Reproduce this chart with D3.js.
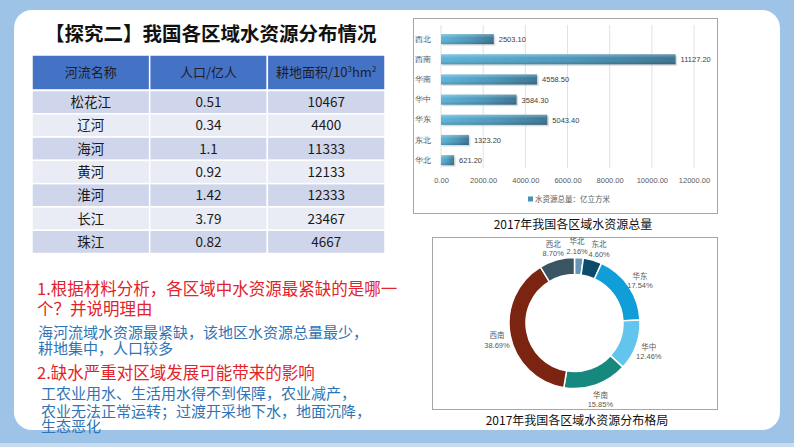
<!DOCTYPE html>
<html><head><meta charset="utf-8">
<script src="https://cdn.jsdelivr.net/npm/d3@7"></script>
<style>
body{margin:0;background:#9dc3e6;overflow:hidden;}
svg{display:block;font-family:"Noto Sans CJK SC","Noto Sans",sans-serif;}
</style>
</head><body>
<svg id="c" width="794" height="447"></svg>
<script>
// ---------- data ----------
const barRegions = ["西北","西南","华南","华中","华东","东北","华北"];
const waterTotal = [2503.10, 11127.20, 4558.50, 3584.30, 5043.40, 1323.20, 621.20];
const xTicks = [0, 2000, 4000, 6000, 8000, 10000, 12000];
const legendLabel = "水资源总量：亿立方米";

const donutRegions = ["华北","东北","华东","华中","华南","西南","西北"];
const sharePct = [2.16, 4.60, 17.54, 12.46, 15.85, 38.69, 8.70];
const donutColors = ["#6897b6","#0c4c69","#0f9ed8","#62c5ee","#17887d","#7a2411","#3b5464"];

const rivers = ["松花江","辽河","海河","黄河","淮河","长江","珠江"];
const population = ["0.51","0.34","1.1","0.92","1.42","3.79","0.82"];
const farmland = ["10467","4400","11333","12133","12333","23467","4667"];

const title = "【探究二】我国各区域水资源分布情况";
const barCaption = "2017年我国各区域水资源总量";
const donutCaption = "2017年我国各区域水资源分布格局";
const question1 = ["1.根据材料分析，各区域中水资源最紧缺的是哪一", "个？并说明理由"];
const answer1 = ["海河流域水资源最紧缺，该地区水资源总量最少，", "耕地集中，人口较多"];
const question2 = ["2.缺水严重对区域发展可能带来的影响"];
const answer2 = ["工农业用水、生活用水得不到保障，农业减产，", "农业无法正常运转；过渡开采地下水，地面沉降，", "生态恶化"];

// ---------- canvas ----------
const svg = d3.select("#c");
svg.append("rect").attr("width",794).attr("height",447).attr("fill","#9dc3e6");
svg.append("rect").attr("x",0).attr("y",443).attr("width",794).attr("height",4).attr("fill","#c9dcef");
svg.append("rect").attr("x",14).attr("y",10).attr("width",766).attr("height",420).attr("rx",18).attr("fill","#ffffff");

// title
svg.append("text").attr("x",45).attr("y",41).attr("font-size",19.5).attr("font-weight","bold")
  .attr("fill","#111").text(title);

// ---------- table ----------
const colX = d3.scaleBand().domain([0,1,2]).range([32,385]);
const rowY = d3.scaleBand().domain(d3.range(7)).range([90.5,253.5]);
const tbl = svg.append("g");
tbl.selectAll("rect.h").data([0,1,2]).join("rect")
  .attr("x", d=>colX(d)).attr("y",55).attr("width",colX.bandwidth()).attr("height",35)
  .attr("fill","#4472c4").attr("stroke","#fff").attr("stroke-width",1.5);
const hdr = tbl.append("g").attr("font-size",13).attr("fill","#1d1d2b").attr("text-anchor","middle");
hdr.append("text").attr("x",colX(0)+colX.bandwidth()/2).attr("y",77).text("河流名称");
hdr.append("text").attr("x",colX(1)+colX.bandwidth()/2).attr("y",77).text("人口/亿人");
const h3 = hdr.append("text").attr("x",colX(2)+colX.bandwidth()/2).attr("y",77);
h3.append("tspan").text("耕地面积/10");
h3.append("tspan").attr("font-size",8).attr("dy",-5).text("3");
h3.append("tspan").attr("dy",5).text("hm");
h3.append("tspan").attr("font-size",8).attr("dy",-5).text("2");
const rows = rivers.map((r,i)=>[r, population[i], farmland[i]]);
rows.forEach((row,i)=>{
  row.forEach((v,j)=>{
    tbl.append("rect").attr("x",colX(j)).attr("y",rowY(i)).attr("width",colX.bandwidth()).attr("height",rowY.bandwidth())
      .attr("fill", i%2===0 ? "#cfd5ea" : "#e9ebf5").attr("stroke","#fff").attr("stroke-width",1.5);
    tbl.append("text").attr("x",colX(j)+colX.bandwidth()/2).attr("y",rowY(i)+rowY.bandwidth()/2+5)
      .attr("text-anchor","middle").attr("font-size",13.5).attr("fill","#1a1a1a").text(v);
  });
});

// ---------- left texts ----------
function block(arr, x, ys, size, color){
  const t = svg.append("text").attr("x",x).attr("font-size",size).attr("fill",color);
  arr.forEach((s,i)=>t.append("tspan").attr("x",x).attr("y", ys[i]).text(s));
}
block(question1, 37, [295, 314.5], 16.5, "#e3232b");
block(answer1, 38, [338, 354], 15, "#2f74b5");
block(question2, 37, [379], 16.5, "#e3232b");
block(answer2, 41, [398.5, 416.5, 432], 15, "#2f74b5");

// ---------- bar chart ----------
const defs = svg.append("defs");
const g1 = defs.append("linearGradient").attr("id","barGrad").attr("x1",0).attr("x2",1).attr("y1",0).attr("y2",0);
g1.append("stop").attr("offset","0%").attr("stop-color","#5db4d9");
g1.append("stop").attr("offset","55%").attr("stop-color","#4b97ba");
g1.append("stop").attr("offset","100%").attr("stop-color","#3a7492");
const g2 = defs.append("linearGradient").attr("id","barShade").attr("x1",0).attr("x2",0).attr("y1",0).attr("y2",1);
g2.append("stop").attr("offset","0%").attr("stop-color","#fff").attr("stop-opacity",0.3);
g2.append("stop").attr("offset","40%").attr("stop-color","#fff").attr("stop-opacity",0);
g2.append("stop").attr("offset","100%").attr("stop-color","#000").attr("stop-opacity",0.18);

svg.append("rect").attr("x",413.5).attr("y",18.5).attr("width",304).attr("height",195)
  .attr("fill","#fff").attr("stroke","#a6a6a6");

const numFont = "'Liberation Sans','Noto Sans',sans-serif";
const x = d3.scaleLinear().domain([0,12000]).range([441,694]);
const y = d3.scaleBand().domain(barRegions).range([29,170.2]).paddingInner(0.5).paddingOuter(0.25);
const bc = svg.append("g");
bc.selectAll("line.grid").data(xTicks).join("line")
  .attr("x1",d=>x(d)).attr("x2",d=>x(d)).attr("y1",25).attr("y2",168)
  .attr("stroke","#d9d9d9").attr("stroke-width",0.8);
const xAxis = d3.axisBottom(x).tickValues(xTicks).tickFormat(d3.format(".2f")).tickSize(0).tickPadding(0);
const xa = bc.append("g").attr("transform","translate(0,178)").call(xAxis);
xa.select(".domain").remove();
xa.selectAll("text").attr("font-size",7.5).attr("fill","#595959").attr("font-family",numFont);
const yAxis = d3.axisLeft(y).tickSize(0).tickPadding(0);
const ya = bc.append("g").attr("transform","translate(431,0)").call(yAxis);
ya.select(".domain").remove();
ya.selectAll("text").attr("font-size",8).attr("fill","#595959").attr("font-family",null);

const bars = barRegions.map((r,i)=>({r, v: waterTotal[i]}));
bc.selectAll("rect.shadow").data(bars).join("rect")
  .attr("x",x(0)+1.5).attr("y",d=>y(d.r)+1.5).attr("width",d=>x(d.v)-x(0)).attr("height",y.bandwidth())
  .attr("fill","#9a9a9a").attr("opacity",0.35);
bc.selectAll("rect.bar").data(bars).join("rect")
  .attr("x",x(0)).attr("y",d=>y(d.r)).attr("width",d=>x(d.v)-x(0)).attr("height",y.bandwidth())
  .attr("fill","url(#barGrad)");
bc.selectAll("rect.shade").data(bars).join("rect")
  .attr("x",x(0)).attr("y",d=>y(d.r)).attr("width",d=>x(d.v)-x(0)).attr("height",y.bandwidth())
  .attr("fill","url(#barShade)");
bc.selectAll("text.val").data(bars).join("text")
  .attr("x",d=>x(d.v)+5).attr("y",d=>y(d.r)+y.bandwidth()/2+3)
  .attr("font-size",7.5).attr("fill","#404040").attr("font-family",numFont)
  .text(d=>d3.format(".2f")(d.v));
bc.append("rect").attr("x",528).attr("y",196.5).attr("width",5).attr("height",5).attr("fill","#4a90b2");
bc.append("text").attr("x",535).attr("y",202).attr("font-size",7.5).attr("fill","#595959").text(legendLabel);

svg.append("text").attr("x",573).attr("y",229).attr("text-anchor","middle").attr("font-size",12)
  .attr("fill","#111").text(barCaption);

// ---------- donut ----------
svg.append("rect").attr("x",432.5).attr("y",237.5).attr("width",285).attr("height",172)
  .attr("fill","#fff").attr("stroke","#a6a6a6");
const cx = 574.5, cy = 323;
const pie = d3.pie().sort(null).value(d=>d.v);
const arcs = pie(donutRegions.map((r,i)=>({r, v: sharePct[i], c: donutColors[i]})));
const arc = d3.arc().innerRadius(48.5).outerRadius(65.5);
const labelArc = d3.arc().innerRadius(79).outerRadius(79);
const dg = svg.append("g").attr("transform",`translate(${cx},${cy})`);
dg.selectAll("path").data(arcs).join("path").attr("d",arc)
  .attr("fill",d=>d.data.c).attr("stroke","#fff").attr("stroke-width",1.5);

const labW = 21, labH = 20;
const pos = arcs.map(d=>{ const c = labelArc.centroid(d); return {d, x:c[0], y:c[1]}; });
for(let it=0; it<50; it++){
  for(let i=0;i<pos.length;i++) for(let j=i+1;j<pos.length;j++){
    const a=pos[i], b=pos[j];
    const dx=b.x-a.x, dy=b.y-a.y;
    if(Math.abs(dx)<labW+1 && Math.abs(dy)<labH){
      const push=(labW+1-Math.abs(dx))/2, s = dx>=0?1:-1;
      a.x -= s*push; b.x += s*push;
    }
  }
}
const lab = dg.selectAll("text.lab").data(pos).join("text")
  .attr("transform",p=>`translate(${p.x},${p.y})`)
  .attr("text-anchor","middle").attr("font-size",7.5).attr("fill","#595959");
lab.append("tspan").attr("x",0).attr("dy",0).text(p=>p.d.data.r);
lab.append("tspan").attr("x",0).attr("dy",9.5).attr("font-family",numFont)
  .text(p=>d3.format(".2f")(p.d.data.v)+"%");

svg.append("text").attr("x",577).attr("y",425).attr("text-anchor","middle").attr("font-size",12)
  .attr("fill","#111").text(donutCaption);
</script>
</body></html>
